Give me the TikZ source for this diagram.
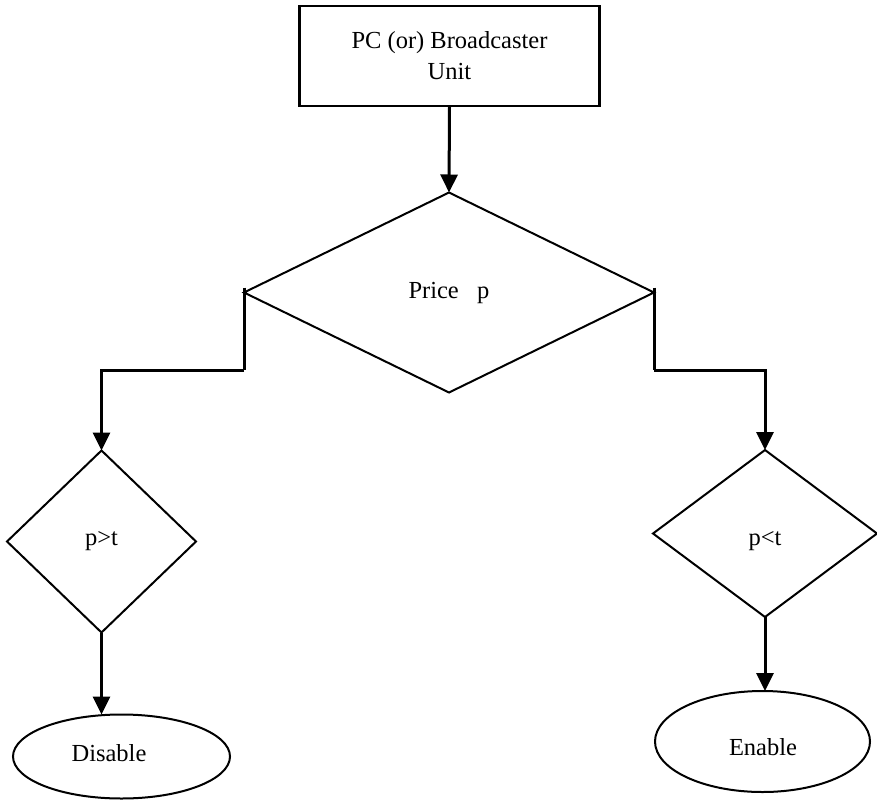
\documentclass[tikz,border=0pt]{standalone}
\usepackage{fontspec}
\setmainfont{Liberation Serif}
\usetikzlibrary{shapes.geometric,arrows.meta}
\begin{document}
\begin{tikzpicture}[x=1pt,y=-1pt,
  every node/.style={font=\fontsize{24.5}{31}\selectfont, align=center, inner sep=0pt, outer sep=0pt},
  boxnode/.style={draw, line width=2.6pt, rectangle},
  decide/.style={draw, line width=2pt, diamond},
  term/.style={draw, line width=2pt, ellipse},
  conn/.style={line width=3pt, -{Triangle[length=18pt,width=17pt]}},
  plain/.style={line width=3pt}]
\useasboundingbox (0,0) rectangle (877,800);

% blocks
\node[boxnode, minimum width=300, minimum height=100] (unit) at (449.5,56) {PC (or) Broadcaster\\Unit};
\node[decide, minimum width=410, minimum height=200] (price) at (449,292.5) {Price\ \ \ p};
\node[decide, minimum width=189, minimum height=182] (gt) at (101.5,541.5) {p>t};
\node[decide, minimum width=224, minimum height=167] (lt) at (765,533.5) {};
\node at (765,541) (lttext) {p<t};
\node[term, minimum width=217, minimum height=84] (dis) at (121.5,756.5) {};
\node at (109,753) (distext) {Disable};
\node[term, minimum width=215, minimum height=101] (ena) at (762.5,741.5) {};
\node at (763,747) (enatext) {Enable};

% bend level of the side branches
\coordinate (bend) at (0,370);

% connectors
\draw[conn] (unit.south) -- (price.north);
\draw[plain] ([yshift=5pt]price.west) -- (price.west |- bend);
\draw[conn] (price.west |- bend) -| (gt.north);
\draw[plain] ([yshift=5pt]price.east) -- (price.east |- bend);
\draw[conn] (price.east |- bend) -| (lt.north);
\draw[conn] (gt.south) -- (gt.south |- dis.north);
\draw[conn] (lt.south) -- (lt.south |- ena.north);
\end{tikzpicture}
\end{document}
